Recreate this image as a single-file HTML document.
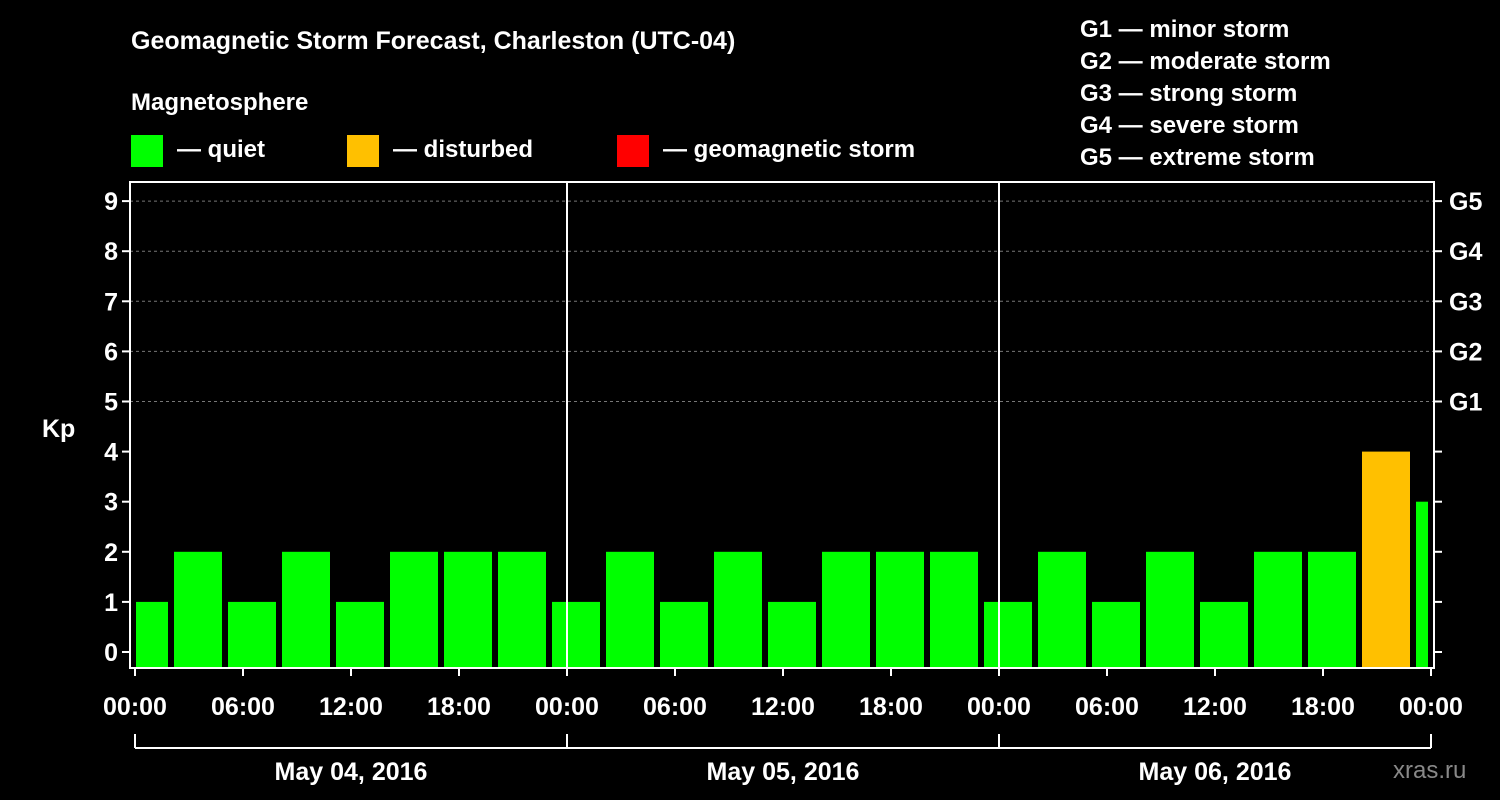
<!DOCTYPE html>
<html><head><meta charset="utf-8">
<style>
html,body{margin:0;padding:0;background:#000;}
svg{display:block;font-family:"Liberation Sans",Arial,sans-serif;font-weight:bold;}
</style></head>
<body>
<svg id="chart" width="1500" height="800" viewBox="0 0 1500 800" xmlns="http://www.w3.org/2000/svg">
<rect width="1500" height="800" fill="#000"/>
<text x="131" y="49" fill="#fff" font-size="25">Geomagnetic Storm Forecast, Charleston (UTC-04)</text>
<text x="131" y="110" fill="#fff" font-size="24">Magnetosphere</text>
<g><rect x="131" y="135" width="32" height="32" fill="#00ff00"/><text x="177" y="157" fill="#fff" font-size="24">— quiet</text></g>
<g><rect x="347" y="135" width="32" height="32" fill="#ffc000"/><text x="393" y="157" fill="#fff" font-size="24">— disturbed</text></g>
<g><rect x="617" y="135" width="32" height="32" fill="#ff0000"/><text x="663" y="157" fill="#fff" font-size="24">— geomagnetic storm</text></g>
<g fill="#fff" font-size="24">
<text x="1080" y="37">G1 — minor storm</text>
<text x="1080" y="69">G2 — moderate storm</text>
<text x="1080" y="101">G3 — strong storm</text>
<text x="1080" y="133">G4 — severe storm</text>
<text x="1080" y="165">G5 — extreme storm</text>
</g>
<text x="42" y="437" fill="#fff" font-size="25">Kp</text>
<text x="1393" y="778" fill="#888" font-size="24" font-weight="normal">xras.ru</text>
<g id="grid"></g>
<g id="bars"></g>
<g id="axes"></g>
</svg>
<script>
const kpValues = [1,2,1,2,1,2,2,2,1,2,1,2,1,2,2,2,1,2,1,2,1,2,2,4,3];
const barHours = kpValues.map((v,i)=>i*3+0.5);
const yTicks = [0,1,2,3,4,5,6,7,8,9];
const gLabels = ["G1","G2","G3","G4","G5"];
const gLevels = [5,6,7,8,9];
const timeTicks = ["00:00","06:00","12:00","18:00","00:00","06:00","12:00","18:00","00:00","06:00","12:00","18:00","00:00"];
const dayLabels = ["May 04, 2016","May 05, 2016","May 06, 2016"];

const NS="http://www.w3.org/2000/svg";
const L=130,R=1434,T=182,B=668;
const x0=135,pxPerHour=18;
function xs(h){return x0+h*pxPerHour;}
function ys(v){return 652-v*50.1;}
function mk(tag,attrs,parent){const e=document.createElementNS(NS,tag);for(const k in attrs)e.setAttribute(k,attrs[k]);parent.appendChild(e);return e;}
const grid=document.getElementById('grid'),bars=document.getElementById('bars'),axes=document.getElementById('axes');

gLevels.forEach((v,i)=>{
  const ln=mk('line',{x1:L,x2:R,y1:ys(v),y2:ys(v),stroke:'#777','stroke-dasharray':'3,3','stroke-width':1},grid);
  
  
  const t=mk('text',{x:1449,y:ys(v)+9,fill:'#fff','font-size':25},axes);
  t.textContent=gLabels[i];
  
  
});

kpValues.forEach((v,i)=>{
  const c=xs(barHours[i]);
  let a=Math.max(c-24,L+6),b=Math.min(c+24,R-6);
  const col=v>=5?'#ff0000':(v>=4?'#ffc000':'#00ff00');
  const r=mk('rect',{x:a,y:ys(v),width:b-a,height:B-ys(v),fill:col},bars);
  
  
});

// frame
const fr=mk('rect',{x:L,y:T,width:R-L,height:B-T,fill:'none',stroke:'#fff','stroke-width':2},axes);


[1,2].forEach(d=>{
  const ln=mk('line',{x1:xs(d*24),x2:xs(d*24),y1:T,y2:B,stroke:'#fff','stroke-width':2},axes);
  
  
});
yTicks.forEach(v=>{
  mk('line',{x1:L-8,x2:L,y1:ys(v),y2:ys(v),stroke:'#fff','stroke-width':2},axes);
  mk('line',{x1:R,x2:R+8,y1:ys(v),y2:ys(v),stroke:'#fff','stroke-width':2},axes);
  const t=mk('text',{x:L-12,y:ys(v)+9,fill:'#fff','font-size':25,'text-anchor':'end'},axes);
  t.textContent=v;
  
  
});
timeTicks.forEach((s,i)=>{
  const x=xs(i*6);
  mk('line',{x1:x,x2:x,y1:B,y2:B+8,stroke:'#fff','stroke-width':2},axes);
  const t=mk('text',{x:x,y:715,fill:'#fff','font-size':25,'text-anchor':'middle'},axes);
  t.textContent=s;
  
  
});
mk('line',{x1:xs(0),x2:xs(72),y1:748,y2:748,stroke:'#fff','stroke-width':2},axes);
[0,1,2,3].forEach(d=>mk('line',{x1:xs(d*24),x2:xs(d*24),y1:734,y2:748,stroke:'#fff','stroke-width':2},axes));
dayLabels.forEach((s,i)=>{
  const t=mk('text',{x:xs(i*24+12),y:780,fill:'#fff','font-size':25,'text-anchor':'middle'},axes);
  t.textContent=s;
  
  
});
</script>
</body></html>
